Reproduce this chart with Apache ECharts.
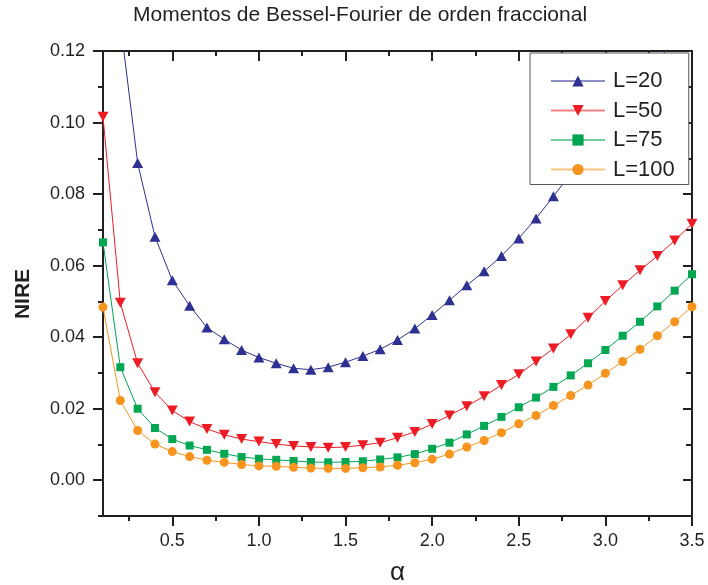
<!DOCTYPE html>
<html>
<head>
<meta charset="utf-8">
<script src="https://cdn.jsdelivr.net/npm/echarts@6/dist/echarts.min.js"></script>
<style>
  html, body { margin: 0; padding: 0; background: #fff; }
  #chart { width: 708px; height: 585px; }
</style>
</head>
<body>
<div id="chart"></div>
<script>
// alpha values (x)
var alpha = [0.1, 0.2, 0.3, 0.4, 0.5, 0.6, 0.7, 0.8, 0.9, 1.0,
  1.1, 1.2, 1.3, 1.4, 1.5, 1.6, 1.7, 1.8, 1.9, 2.0,
  2.1, 2.2, 2.3, 2.4, 2.5, 2.6, 2.7, 2.8, 2.9, 3.0,
  3.1, 3.2, 3.3, 3.4, 3.5]

// NIRE por cada L
var L20 = [0.195, 0.128, 0.0887, 0.0681, 0.0559, 0.0488, 0.0427, 0.0394, 0.0364, 0.0343,
  0.0327, 0.0313, 0.0309, 0.0316, 0.0330, 0.0347, 0.0366, 0.0392, 0.0424, 0.0462,
  0.0503, 0.0545, 0.0584, 0.0627, 0.0676, 0.0732, 0.0794, 0.0856, 0.0918, 0.0980,
  0.1043, 0.1106, 0.1170, 0.1235, 0.1300]
var L50 = [0.1016, 0.0496, 0.0327, 0.0246, 0.0195, 0.0164, 0.0143, 0.0127, 0.0115, 0.0108,
  0.0101, 0.0096, 0.0093, 0.0091, 0.0093, 0.0098, 0.0105, 0.0119, 0.0135, 0.0157,
  0.0181, 0.0207, 0.0235, 0.0266, 0.0296, 0.0332, 0.0368, 0.0408, 0.0454, 0.0501,
  0.0545, 0.0587, 0.0627, 0.0670, 0.0717]
var L75 = [0.0665, 0.0316, 0.0200, 0.0146, 0.0115, 0.0097, 0.0085, 0.0074, 0.0065, 0.0060,
  0.0057, 0.0054, 0.0051, 0.0050, 0.0051, 0.0053, 0.0058, 0.0064, 0.0073, 0.0088,
  0.0105, 0.0128, 0.0152, 0.0177, 0.0204, 0.0231, 0.0261, 0.0293, 0.0327, 0.0364,
  0.0404, 0.0443, 0.0486, 0.0530, 0.0576]
var L100 = [0.0484, 0.0223, 0.0139, 0.0101, 0.0080, 0.0066, 0.0056, 0.0050, 0.0044, 0.0040,
  0.0039, 0.0036, 0.0034, 0.0033, 0.0033, 0.0035, 0.0037, 0.0042, 0.0049, 0.0059,
  0.0073, 0.0093, 0.0111, 0.0133, 0.0158, 0.0181, 0.0209, 0.0237, 0.0266, 0.0299,
  0.0332, 0.0366, 0.0404, 0.0443, 0.0485]

// ticks
var xTicks = [0.5, 1.0, 1.5, 2.0, 2.5, 3.0, 3.5]
var xMinor = [0.25, 0.75, 1.25, 1.75, 2.25, 2.75, 3.25]
var yTicks = [0.00, 0.02, 0.04, 0.06, 0.08, 0.10, 0.12]
var yMinor = [-0.01, 0.01, 0.03, 0.05, 0.07, 0.09, 0.11]

var FONT = '"Liberation Sans", Arial, sans-serif'
var INK = '#231f20'

function pairs (vals) {
  return alpha.map(function (a, i) { return [a, vals[i]] })
}

// eje base, se repite para abajo/arriba/izq/der
function axis (pos, ticks, len, inside, labels, extra) {
  var isX = pos === 'bottom' || pos === 'top'
  var a = {
    type: 'value',
    position: pos,
    min: isX ? 0.1 : -0.01,
    max: isX ? 3.5 : 0.12,
    splitLine: { show: false },
    axisLine: { show: true, onZero: false, lineStyle: { color: INK, width: 2 } },
    axisTick: { show: true, customValues: ticks, inside: inside, length: len, lineStyle: { color: INK, width: 2 } },
    axisLabel: { show: false }
  }
  if (labels) {
    a.axisLabel = {
      show: true,
      customValues: ticks,
      margin: isX ? 16 : 18,
      fontSize: 18,
      fontFamily: FONT,
      color: INK,
      formatter: function (v) { return isX ? v.toFixed(1) : v.toFixed(2) }
    }
  }
  return Object.assign(a, extra || {})
}

var chart = echarts.init(document.getElementById('chart'))
var option = {
  animation: false,
  backgroundColor: '#fff',
  title: {
    text: 'Momentos de Bessel-Fourier de orden fraccional',
    left: 133,
    top: 5,
    padding: 0,
    textStyle: { fontSize: 21, fontWeight: 'normal', fontFamily: FONT, color: INK }
  },
  grid: { left: 103, right: 16, top: 51, bottom: 69, outerBoundsMode: 'none' },
  xAxis: [
    axis('bottom', xTicks, 10, false, true, {
      name: 'α', nameLocation: 'middle', nameGap: 44,
      nameTextStyle: { fontSize: 26, fontFamily: FONT, color: INK }
    }),
    axis('bottom', xMinor, 5, false, false),
    axis('top', xTicks, 10, true, false),
    axis('top', xMinor, 5, true, false)
  ],
  yAxis: [
    axis('left', yTicks, 10, false, true),
    axis('left', yMinor, 5, false, false),
    axis('right', yTicks, 9, true, false),
    axis('right', yMinor, 6, true, false)
  ],
  graphic: [{
    type: 'text',
    x: 23,
    y: 294,
    rotation: Math.PI / 2,
    style: { text: 'NIRE', font: 'bold 21px ' + FONT, fill: INK, align: 'center', verticalAlign: 'middle' }
  }],
  legend: {
    orient: 'vertical',
    left: 530,
    top: 53,
    padding: [17, 14, 4, 20],
    itemWidth: 54,
    itemHeight: 14,
    itemGap: 7.5,
    borderColor: '#555',
    borderWidth: 1,
    backgroundColor: '#fff',
    lineStyle: { width: 2, opacity: 0.55 },
    textStyle: { fontSize: 22, lineHeight: 22, fontFamily: FONT, color: INK, padding: [0, 0, 0, 3] },
    data: ['L=20', 'L=50', 'L=75', 'L=100']
  },
  series: [
    {
      name: 'L=20', type: 'line', data: pairs(L20),
      symbol: 'triangle', symbolSize: [11, 10],
      color: '#2e3192', lineStyle: { width: 1 }
    },
    {
      name: 'L=50', type: 'line', data: pairs(L50),
      symbol: 'triangle', symbolRotate: 180, symbolSize: [11, 10],
      color: '#ed1c24', lineStyle: { width: 1 }
    },
    {
      name: 'L=75', type: 'line', data: pairs(L75),
      symbol: 'rect', symbolSize: 8,
      color: '#00a651', lineStyle: { width: 1 }
    },
    {
      name: 'L=100', type: 'line', data: pairs(L100),
      symbol: 'circle', symbolSize: 9,
      color: '#f7941d', lineStyle: { width: 1 }
    }
  ]
}
chart.setOption(option)
</script>
</body>
</html>
